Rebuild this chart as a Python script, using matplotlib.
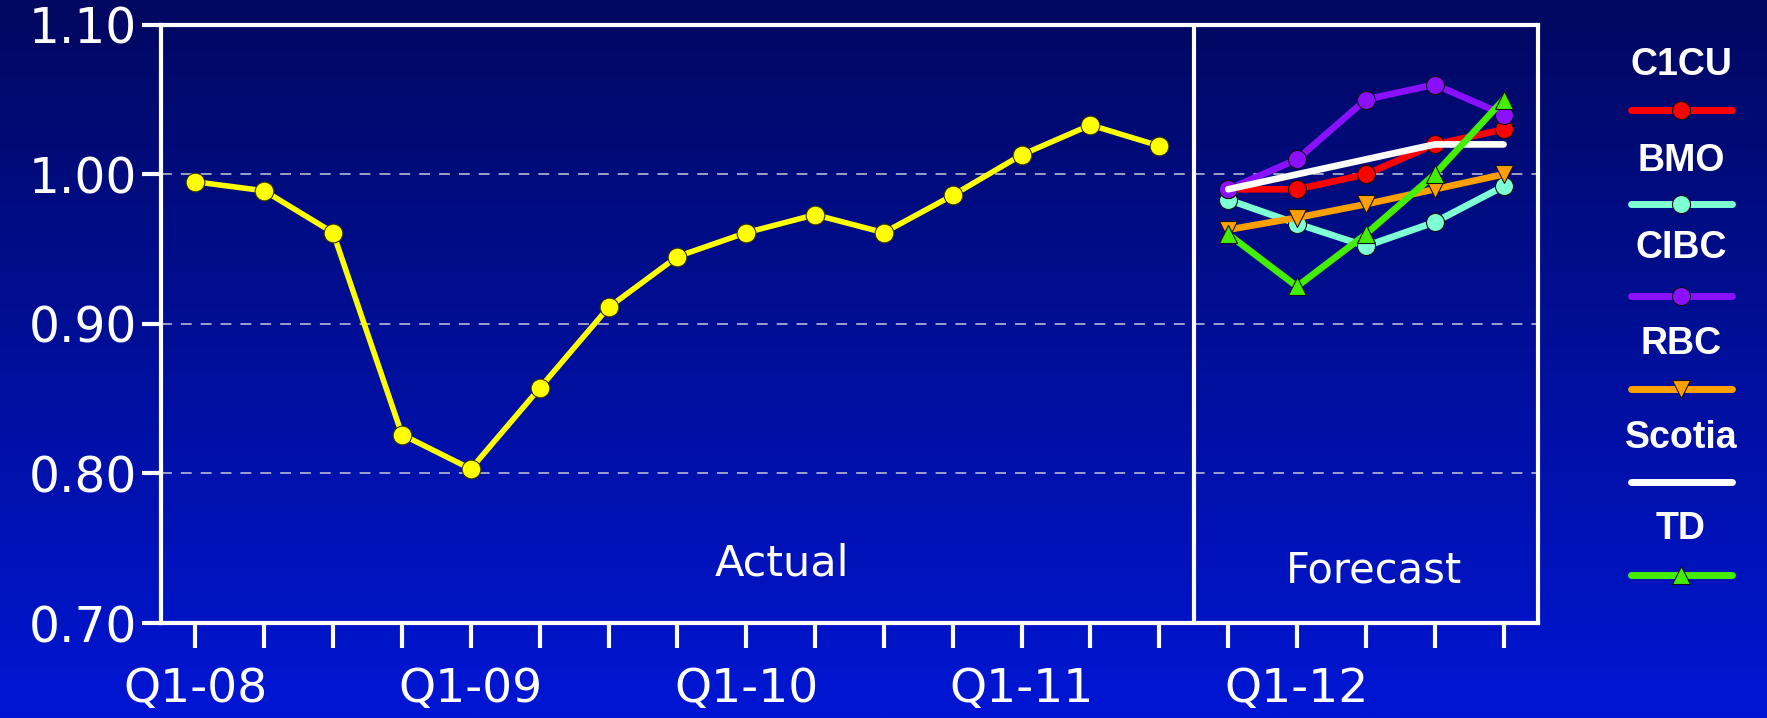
import numpy as np
import matplotlib.pyplot as plt
from matplotlib.lines import Line2D

# data
quarters = np.arange(20)
tick_labels = ['Q1-08', '', '', '', 'Q1-09', '', '', '', 'Q1-10', '', '', '',
               'Q1-11', '', '', '', 'Q1-12', '', '', '']
actual = [0.995, 0.989, 0.961, 0.826, 0.803, 0.857, 0.911, 0.945,
          0.961, 0.973, 0.961, 0.986, 1.013, 1.033, 1.019]
fc_x = quarters[15:]
c1cu = [0.990, 0.990, 1.000, 1.020, 1.030]
bmo = [0.983, 0.967, 0.952, 0.968, 0.992]
cibc = [0.990, 1.010, 1.050, 1.060, 1.040]
rbc = [0.963, 0.971, 0.980, 0.990, 1.000]
scotia = [0.990, 1.000, 1.010, 1.020, 1.020]
td = [0.960, 0.925, 0.960, 1.000, 1.050]

series = [('C1CU', c1cu, '#ff0000', 'o'),
          ('BMO', bmo, '#7fffd4', 'o'),
          ('CIBC', cibc, '#8b10ff', 'o'),
          ('RBC', rbc, '#ffa000', 'v'),
          ('Scotia', scotia, '#ffffff', None),
          ('TD', td, '#44ee00', '^')]
draw_order = ['BMO', 'RBC', 'C1CU', 'CIBC', 'Scotia', 'TD']

fig = plt.figure(figsize=(17.67, 7.18), dpi=100)

# gradient background
bg = fig.add_axes([0, 0, 1, 1], zorder=-10)
top = np.array([0, 8, 96]) / 255
bot = np.array([0, 22, 212]) / 255
t = np.linspace(0, 1, 256)[:, None, None]
grad = top + (bot - top) * t
bg.imshow(np.repeat(grad, 2, axis=1), aspect='auto', extent=[0, 1, 0, 1], origin='upper')
bg.axis('off')

ax = fig.add_axes([0.0911, 0.1323, 0.7793, 0.8332])
ax.set_facecolor('none')
ax.set_xlim(-0.5, 19.5)
ax.set_ylim(0.70, 1.10)

for y in [0.8, 0.9, 1.0]:
    ax.axhline(y, color='#a8acd0', lw=1.3, ls=(0, (6, 5)), zorder=1)
ax.axvline(14.5, color='white', lw=3, zorder=2)

ax.plot(quarters[:15], actual, color='#ffff00', lw=4, marker='o', ms=13.5,
        mfc='#ffff00', mec='#333300', mew=0.8, zorder=3)

lookup = {s[0]: s for s in series}
for name in draw_order:
    _, vals, col, mk = lookup[name]
    ax.plot(fc_x, vals, color=col, lw=4.8, marker=mk, ms=13, mfc=col,
            mec='#111111', mew=0.8, solid_capstyle='round', zorder=4)

for s in ax.spines.values():
    s.set_color('white')
    s.set_linewidth(3)

ax.set_yticks([0.70, 0.80, 0.90, 1.00, 1.10])
ax.set_yticklabels(['0.70', '0.80', '0.90', '1.00', '1.10'])
ax.set_xticks(quarters)
ax.set_xticklabels(tick_labels)
ax.tick_params(axis='y', colors='white', labelsize=35, length=14, width=3, pad=3)
ax.tick_params(axis='x', colors='white', labelsize=34, length=18, width=3, pad=14)

ax.text(8.52, 0.74, 'Actual', color='white', fontsize=31, ha='center', va='center')
ax.text(17.12, 0.735, 'Forecast', color='white', fontsize=30, ha='center', va='center')

# legend down the right side
W, H = 1767, 718
text_y = [65, 161, 248, 344, 438, 529]
line_y = [110, 204, 296, 389, 482, 575]
for (name, _, col, mk), ty, ly in zip(series, text_y, line_y):
    fig.text(1681 / W, 1 - ty / H, name, color='white', fontsize=27,
             fontweight='bold', family='Liberation Sans', ha='center', va='center')
    fig.add_artist(Line2D([1631 / W, 1732 / W], [1 - ly / H] * 2, color=col, lw=5,
                          solid_capstyle='round', transform=fig.transFigure))
    if mk:
        fig.add_artist(Line2D([1681 / W], [1 - ly / H], marker=mk, ms=13, mfc=col,
                              mec='#111111', mew=0.8, transform=fig.transFigure))

fig.savefig('out.png', dpi=100)
